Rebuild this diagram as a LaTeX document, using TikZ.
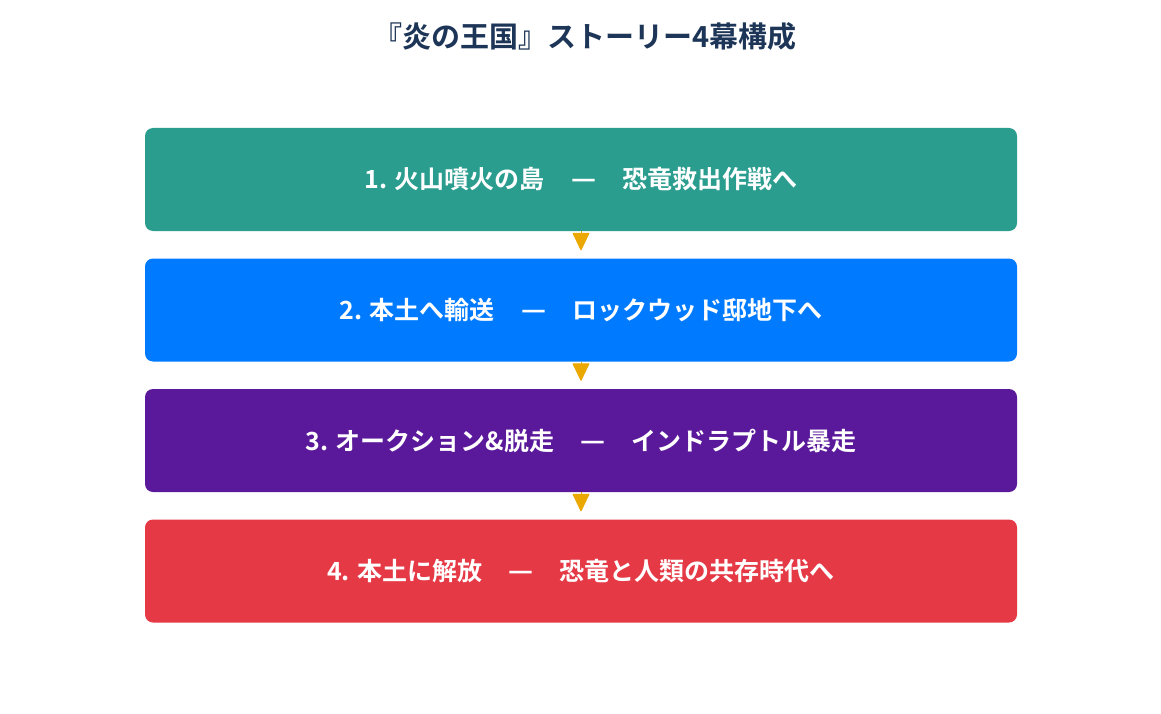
\documentclass[tikz,border=0pt]{standalone}
\usepackage{fontspec}
\setmainfont{Noto Sans CJK JP}[BoldFont={Noto Sans CJK JP Bold}]
\usetikzlibrary{arrows.meta}
\definecolor{cteal}{HTML}{2A9D8F}
\definecolor{cblue}{HTML}{007BFF}
\definecolor{cpurple}{HTML}{5A189A}
\definecolor{cred}{HTML}{E63946}
\definecolor{ctitle}{HTML}{1D3557}
\definecolor{carrow}{HTML}{EBA800}
\newcommand{\sepdash}{\hspace{1.05em}\makebox[1em]{\resizebox{1em}{!}{—}}\hspace{1.05em}}
\tikzset{
  stepbox/.style={rounded corners=8pt, minimum width=872pt, minimum height=103pt,
    inner sep=0pt, text=white, font=\fontsize{25}{30}\selectfont\bfseries},
  flowarrow/.style={draw=carrow, line width=1pt, shorten >=8pt,
    -{Triangle[length=18pt,width=17pt,round]}, carrow},
}
\begin{document}
\begin{tikzpicture}[x=1pt,y=-1pt]
\useasboundingbox[fill=white] (0,0) rectangle (1161,714);
\node[text=ctitle, font=\fontsize{29}{34}\selectfont\bfseries] (title) at (585,37) {『炎の王国』ストーリー4幕構成};
\node[stepbox, fill=cteal] (b1) at (581,179.5) {1. 火山噴火の島\sepdash 恐竜救出作戦へ};
\node[stepbox, fill=cblue] (b2) at (581,310) {2. 本土へ輸送\sepdash ロックウッド邸地下へ};
\node[stepbox, fill=cpurple] (b3) at (581,440.5) {3. オークション\&脱走\sepdash インドラプトル暴走};
\node[stepbox, fill=cred] (b4) at (581,571) {4. 本土に解放\sepdash 恐竜と人類の共存時代へ};
\draw[flowarrow] (b1.south) -- (b2.north);
\draw[flowarrow] (b2.south) -- (b3.north);
\draw[flowarrow] (b3.south) -- (b4.north);
\end{tikzpicture}
\end{document}
